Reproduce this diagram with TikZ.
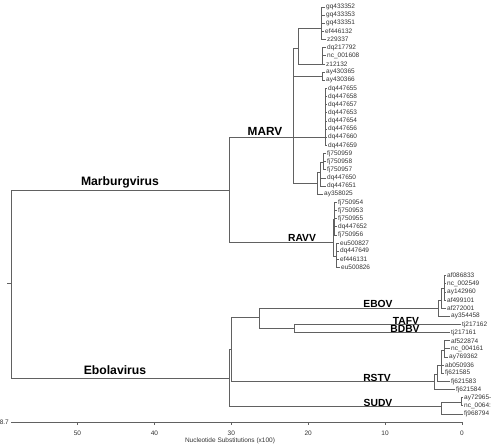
\documentclass[tikz,border=0pt]{standalone}
\usepackage{fontspec}
\setmainfont{Liberation Sans}
\begin{document}
\begin{tikzpicture}[x=1pt, y=-1pt,
  branch/.style={draw=black!62, line width=0.8pt},
  axisline/.style={draw=black!62, line width=0.8pt},
  leaf/.style={anchor=west, inner sep=1pt, font=\fontsize{6.5}{7}\selectfont, text=black!80},
  clade/.style={anchor=base, inner sep=0pt, font=\fontsize{10.3}{11}\selectfont\bfseries},
  genus/.style={anchor=base, inner sep=0pt, font=\fontsize{12.2}{13}\selectfont\bfseries},
  ticklabel/.style={inner sep=0pt, font=\fontsize{6.5}{7}\selectfont, text=black!80}]
\useasboundingbox (0,0) rectangle (499,445);

% internal nodes of the tree
\coordinate (root0) at (7,283);
\coordinate (root) at (11,283);
\coordinate (MB) at (229,190);
\coordinate (MA) at (293,137);
\coordinate (B) at (298,48);
\coordinate (G1) at (321,28);
\coordinate (G2) at (322,64);
\coordinate (G3) at (322,76);
\coordinate (G4) at (325,137);
\coordinate (G5) at (317,183);
\coordinate (G6) at (320,172);
\coordinate (G7) at (323,162);
\coordinate (RV) at (333,242);
\coordinate (V1) at (334,219);
\coordinate (V2) at (336,256);
\coordinate (EV) at (229,378);
\coordinate (EB) at (231,349);
\coordinate (EC) at (259,317);
\coordinate (E1) at (438,308);
\coordinate (E2) at (441,300);
\coordinate (E3) at (444,288);
\coordinate (TB) at (294,328);
\coordinate (R1) at (434,381);
\coordinate (R2) at (437,374);
\coordinate (R3) at (441,365);
\coordinate (R4) at (444,350);
\coordinate (S1) at (441,406);
\coordinate (S2) at (461,402);

\draw[branch] (root0) -- (root);
\foreach \a/\b in {root/MB, root/EV, MB/MA, MB/RV, MA/B, MA/G3, MA/G4, MA/G5,
  B/G1, B/G2, G5/G6, G6/G7, RV/V1, RV/V2, EV/EB, EV/S1, EB/EC, EB/R1,
  EC/E1, EC/TB, E1/E2, E2/E3, R1/R2, R2/R3, R3/R4, S1/S2}
  \draw[branch] (\a) |- (\b);

% leaves
\foreach \nm/\txt/\xx/\up [count=\i] in {
  gq433352/gq433352/325/G1, gq433353/gq433353/325/G1, gq433351/gq433351/325/G1,
  ef446132/ef446132/324/G1, z29337/z29337/326/G1,
  dq217792/dq217792/326/G2, nc001608/nc\_001608/326/G2, z12132/z12132/325/G2,
  ay430365/ay430365/325/G3, ay430366/ay430366/325/G3,
  dq447655/dq447655/327/G4, dq447658/dq447658/327/G4, dq447657/dq447657/327/G4,
  dq447653/dq447653/327/G4, dq447654/dq447654/327/G4, dq447656/dq447656/327/G4,
  dq447660/dq447660/327/G4, dq447659/dq447659/327/G4,
  fj750959/fj750959/326/G7, fj750958/fj750958/326/G7, fj750957/fj750957/326/G7,
  dq447650/dq447650/326/G6, dq447651/dq447651/326/G6, ay358025/ay358025/323/G5,
  fj750954/fj750954/337/V1, fj750953/fj750953/337/V1, fj750955/fj750955/337/V1,
  dq447652/dq447652/337/V1, fj750956/fj750956/337/V1,
  eu500827/eu500827/339/V2, dq447649/dq447649/339/V2, ef446131/ef446131/339/V2,
  eu500826/eu500826/340/V2,
  af086833/af086833/446/E3, nc002549/nc\_002549/446/E3, ay142960/ay142960/446/E3,
  af499101/af499101/446/E3, af272001/af272001/446/E2, ay354458/ay354458/450/E1,
  tj217162/tj217162/461/TB, tj217161/tj217161/450/TB,
  af522874/af522874/450/R4, nc004161/nc\_004161/450/R4, ay769362/ay769362/448/R4,
  ab050936/ab050936/444/R3, fj621585/fj621585/444/R3, fj621583/fj621583/450/R2,
  fj621584/fj621584/455/R1,
  ay729654/ay72965-/463/S2, nc006432/nc\_0064:/463/S2, fj968794/fj968794/463/S1}
{
  \node[leaf] (\nm) at (\xx,{7+8.14*(\i-1)}) {\txt};
  \draw[branch] (\up) |- (\nm.west);
}

% clade labels
\node[genus] (marburg) at (120,185) {Marburgvirus};
\node[genus] (ebola) at (115,374) {Ebolavirus};
\node[clade, font=\fontsize{11.8}{12}\selectfont\bfseries] (marv) at (265,135) {MARV};
\node[clade] (ravv) at (302,241) {RAVV};
\node[clade] (ebov) at (378,307) {EBOV};
\node[clade] (tafv) at (406,324) {TAFV};
\node[clade] (bdbv) at (405,332.5) {BDBV};
\node[clade] (rstv) at (377,381) {RSTV};
\node[clade] (sudv) at (378,406) {SUDV};

% axis
\coordinate (ax0) at (11,422);
\coordinate (ax1) at (462,422);
\draw[axisline] (ax0) -- (ax1);
\foreach \v in {0,10,...,50} {
  \coordinate (t\v) at ({462-7.69*\v},422);
  \draw[axisline] (t\v) -- ++(0,3);
  \node[ticklabel] (lab\v) at ({462-7.69*\v},433) {\v};
}
\node[ticklabel, anchor=east] (axmax) at (9,422) {58.7};
\node[ticklabel] (axtitle) at (230,441) {Nucleotide Substitutions (x100)};
\end{tikzpicture}
\end{document}
